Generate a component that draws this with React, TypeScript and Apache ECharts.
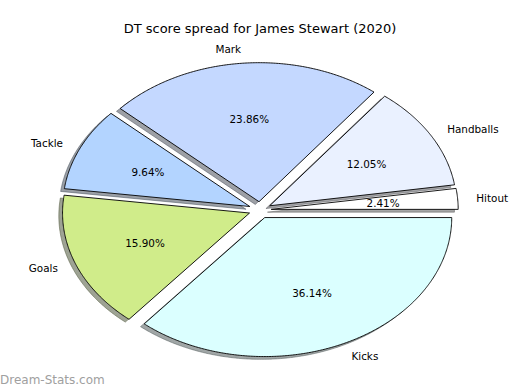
import React, { useEffect, useRef } from "react";
import * as echarts from "echarts";

const categories = ["Hitout", "Handballs", "Mark", "Tackle", "Goals", "Kicks"];
const values = [10, 50, 99, 40, 66, 150];
const colors = ["#ffffff", "#eaf1ff", "#c4d8ff", "#b3d4ff", "#d0ec8a", "#dbffff"];
const titleText = "DT score spread for James Stewart (2020)";
const watermark = "Dream-Stats.com";

const CX = 260;
const CY = 210;
const RX = 187;
const RY = 139;
const EXPLODE = 0.06;
const SHADOW = 0.02;
const FONT = "DejaVu Sans";

function darken(hex: string) {
  const n = parseInt(hex.slice(1), 16);
  const r = Math.round(((n >> 16) & 255) * 0.3);
  const g = Math.round(((n >> 8) & 255) * 0.3);
  const b = Math.round((n & 255) * 0.3);
  return `rgb(${r},${g},${b})`;
}

export default function App() {
  const ref = useRef<HTMLDivElement>(null);
  useEffect(() => {
    document.body.style.margin = "0";
    const chart = echarts.init(ref.current!, null, { renderer: "svg" });
    const total = values.reduce((a, b) => a + b, 0);
    const starts: number[] = [];
    let acc = 0;
    values.forEach((v) => {
      starts.push(acc);
      acc += v;
    });

    const renderItem = (params: any, api: any) => {
      const i = params.dataIndex;
      const v = api.value(0);
      const a0 = (starts[i] / total) * Math.PI * 2;
      const a1 = ((starts[i] + v) / total) * Math.PI * 2;
      const mid = (a0 + a1) / 2;
      const ox = CX + EXPLODE * RX * Math.cos(mid);
      const oy = CY - EXPLODE * RY * Math.sin(mid);
      const n = Math.max(4, Math.ceil(((a1 - a0) * 180) / Math.PI) * 2);
      const pts: number[][] = [[ox, oy]];
      for (let k = 0; k <= n; k++) {
        const a = a0 + ((a1 - a0) * k) / n;
        pts.push([ox + RX * Math.cos(a), oy - RY * Math.sin(a)]);
      }
      const sdx = -SHADOW * RX;
      const sdy = SHADOW * RY;
      const spts = pts.map((p) => [p[0] + sdx, p[1] + sdy]);
      const lx = ox + 1.1 * RX * Math.cos(mid);
      const ly = oy - 1.1 * RY * Math.sin(mid);
      const px = ox + 0.6 * RX * Math.cos(mid);
      const py = oy - 0.6 * RY * Math.sin(mid);
      const dark = darken(colors[i]);
      return {
        type: "group",
        children: [
          {
            type: "polygon",
            z2: 1,
            shape: { points: spts },
            style: { fill: dark, stroke: dark, lineWidth: 0.9, opacity: 0.5 },
          },
          {
            type: "polygon",
            z2: 10,
            shape: { points: pts },
            style: { fill: colors[i], stroke: "#000000", lineWidth: 0.9 },
          },
          {
            type: "text",
            z2: 20,
            style: {
              text: categories[i],
              x: lx,
              y: ly,
              align: Math.cos(mid) > 0 ? "left" : "right",
              verticalAlign: "middle",
              fontSize: 10.4,
              fontFamily: FONT,
              fill: "#000000",
            },
          },
          {
            type: "text",
            z2: 20,
            style: {
              text: ((v / total) * 100).toFixed(2) + "%",
              x: px,
              y: py,
              align: "center",
              verticalAlign: "middle",
              fontSize: 10.4,
              fontFamily: FONT,
              fill: "#000000",
            },
          },
        ],
      };
    };

    chart.setOption({
      animation: false,
      backgroundColor: "#ffffff",
      title: {
        text: titleText,
        left: "center",
        top: 17,
        textStyle: {
          fontSize: 13,
          fontWeight: "normal",
          fontFamily: FONT,
          color: "#000000",
        },
      },
      graphic: [
        {
          type: "text",
          left: 0,
          top: 374,
          style: {
            text: watermark,
            fontSize: 12,
            fontFamily: FONT,
            fill: "#a0a0a0",
          },
        },
      ],
      series: [
        {
          type: "custom",
          coordinateSystem: "none",
          renderItem,
          data: values.map((v, i) => ({ name: categories[i], value: [v] })),
        },
      ],
    });
    return () => chart.dispose();
  }, []);
  return <div ref={ref} style={{ width: 520, height: 390 }} />;
}
